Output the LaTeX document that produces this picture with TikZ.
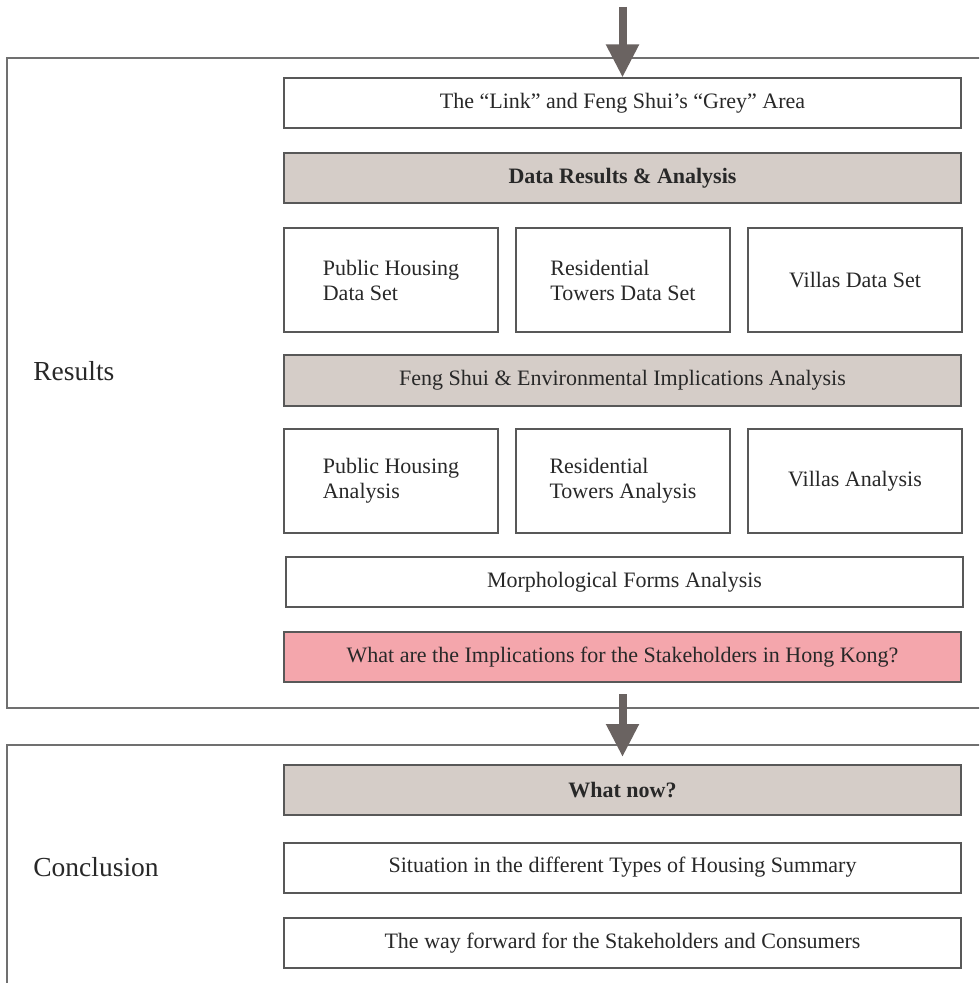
\documentclass[tikz,border=0pt]{standalone}
\usepackage{fontspec}
\setmainfont{Liberation Serif}
\usetikzlibrary{arrows.meta,positioning}
\definecolor{framegrey}{RGB}{112,112,112}
\definecolor{boxline}{RGB}{88,88,88}
\definecolor{headfill}{RGB}{213,205,200}
\definecolor{alertfill}{RGB}{244,166,172}
\definecolor{arrowgrey}{RGB}{106,99,97}
\definecolor{textgrey}{RGB}{40,40,40}
\tikzset{
    sectionframe/.style={draw=framegrey, line width=1pt},
    sectionlabel/.style={anchor=west, inner sep=0pt, text=textgrey,
        font=\fontsize{13.75}{16}\selectfont},
    basebox/.style={draw=boxline, line width=1pt, inner sep=2pt, text=textgrey,
        font=\fontsize{11}{12.5}\selectfont},
    widebox/.style={basebox, fill=white, minimum width=338.5pt, minimum height=25pt},
    headbox/.style={widebox, fill=headfill},
    alertbox/.style={widebox, fill=alertfill},
    smallbox/.style={basebox, fill=white, align=left, minimum width=107pt, minimum height=52pt},
    flowarrow/.style={draw=arrowgrey, line width=4pt,
        -{Triangle[width=15.5pt, length=16.5pt, fill=arrowgrey]}}
}
\begin{document}
\begin{tikzpicture}[x=0.5pt, y=-0.5pt]
\useasboundingbox (0,0) rectangle (979,983);
\clip (0,0) rectangle (979,983);
\fill[white] (0,0) rectangle (979,983);

\draw[sectionframe] (7,58) rectangle (995,708);
\draw[sectionframe] (7,745) rectangle (995,995);
\node[sectionlabel] (results) at (33,371) {Results};
\node[sectionlabel] (conclusion) at (33,867) {Conclusion};

\node[widebox] (link) at (622.5,103.5) {The “Link” and Feng Shui’s “Grey” Area};
\node[headbox] (datares) at (622.5,178) {\textbf{Data Results \& Analysis}};
\node[smallbox] (phdata) at (391,280) {Public Housing\\Data Set};
\node[smallbox, right=8pt of phdata] (rtdata) {Residential\\Towers Data Set};
\node[smallbox, right=8pt of rtdata] (vdata) {Villas Data Set};
\node[headbox] (fsenv) at (622.5,380.5) {Feng Shui \& Environmental Implications Analysis};
\node[smallbox] (phana) at (391,481) {Public Housing\\Analysis};
\node[smallbox, right=8pt of phana] (rtana) {Residential\\Towers Analysis};
\node[smallbox, right=8pt of rtana] (vana) {Villas Analysis};
\node[widebox] (morph) at (624.5,582) {Morphological Forms Analysis};
\node[alertbox] (stake) at (622.5,657) {What are the Implications for the Stakeholders in Hong Kong?};

\node[headbox] (whatnow) at (622.5,790) {\textbf{What now?}};
\node[widebox] (situation) at (622.5,867.5) {Situation in the different Types of Housing Summary};
\node[widebox] (forward) at (622.5,943) {The way forward for the Stakeholders and Consumers};

\coordinate (entry) at (622.5,7);
\draw[flowarrow] (entry) -- (link.north);
\draw[flowarrow, shorten <=5.5pt, shorten >=3.5pt] (stake.south) -- (whatnow.north);
\end{tikzpicture}
\end{document}
